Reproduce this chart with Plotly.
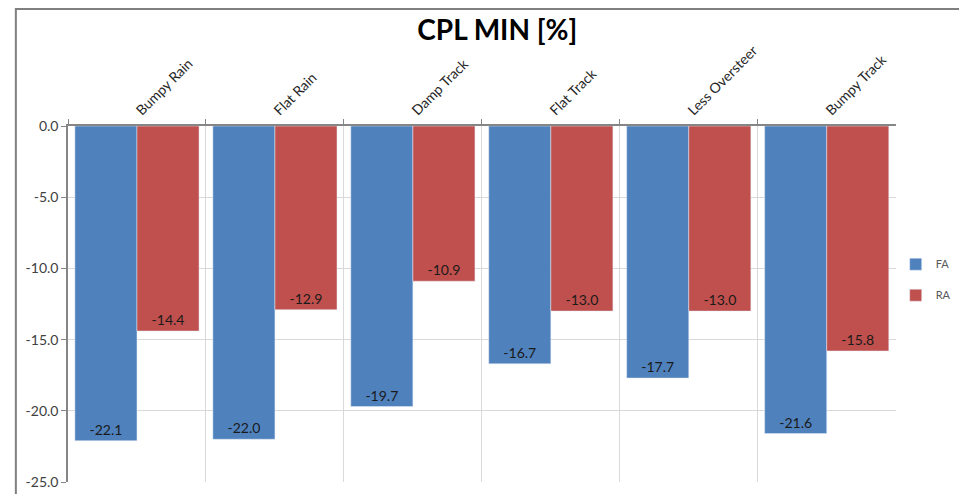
# CPL MIN grouped bar chart (FA vs RA per track condition)

import plotly.graph_objects as go

categories = ['Bumpy Rain', 'Flat Rain', 'Damp Track', 'Flat Track', 'Less Oversteer', 'Bumpy Track']
fa_values = [-22.1, -22.0, -19.7, -16.7, -17.7, -21.6]
ra_values = [-14.4, -12.9, -10.9, -13.0, -13.0, -15.8]
y_ticks = [0, -5, -10, -15, -20, -25]

# plain hyphen labels like the original (plotly would use a unicode minus)
fa_text = [f'{v:.1f}' for v in fa_values]
ra_text = [f'{v:.1f}' for v in ra_values]
y_ticktext = [f'{v:.1f}' for v in y_ticks]

font_family = 'Lato, Open Sans, sans-serif'
label_font = dict(family=font_family, size=14, color='#1a1a1a')

fig = go.Figure()
fig.add_trace(go.Bar(x=categories, y=fa_values, name='FA', legendgroup='FA', marker_color='#4f81bd',
                     text=fa_text, textposition='inside', insidetextanchor='end',
                     textangle=0, textfont=label_font, constraintext='none'))
fig.add_trace(go.Bar(x=categories, y=ra_values, name='RA', legendgroup='RA', marker_color='#c0504d',
                     text=ra_text, textposition='inside', insidetextanchor='end',
                     textangle=0, textfont=label_font, constraintext='none'))

# page body adds ~8px offset, so margins are shifted to compensate
fig.update_layout(
    title=dict(text='<b>CPL MIN [%]</b>', x=0.506, xanchor='center', y=0.955, yanchor='middle',
               font=dict(family=font_family, size=28, color='#000000')),
    width=967, height=494,
    margin=dict(l=60, r=71, t=118, b=20),
    plot_bgcolor='white', paper_bgcolor='white',
    barmode='group', bargap=0.1, bargroupgap=0,
    legend=dict(xref='container', yref='container', x=0.918, y=0.45, xanchor='left', yanchor='middle',
                font=dict(family=font_family, size=11, color='#595959'),
                itemwidth=30, tracegroupgap=12),
    showlegend=True,
)

fig.update_xaxes(side='top', tickangle=-45, tickson='boundaries', ticks='outside', ticklen=5,
                 tickcolor='#868686', showline=True, linecolor='#868686', linewidth=2,
                 showgrid=True, gridcolor='#d9d9d9', gridwidth=1, automargin=False,
                 tickfont=dict(family=font_family, size=14, color='#262626'))
fig.update_yaxes(range=[-25, 0], tickvals=y_ticks, ticktext=y_ticktext, ticks='outside', ticklen=5,
                 tickcolor='#868686', showline=True, linecolor='#868686', linewidth=1.5,
                 showgrid=True, gridcolor='#d9d9d9', gridwidth=1, zeroline=False, automargin=False,
                 tickfont=dict(family=font_family, size=14, color='#404040'))

# outer chart border (cropped at right and bottom in the original)
fig.add_shape(type='rect', xref='paper', yref='paper', x0=-0.063, x1=1.3, y0=-0.3, y1=1.329,
              line=dict(color='#7f7f7f', width=2), fillcolor='rgba(0,0,0,0)', layer='below')

fig.write_html('out.html')
